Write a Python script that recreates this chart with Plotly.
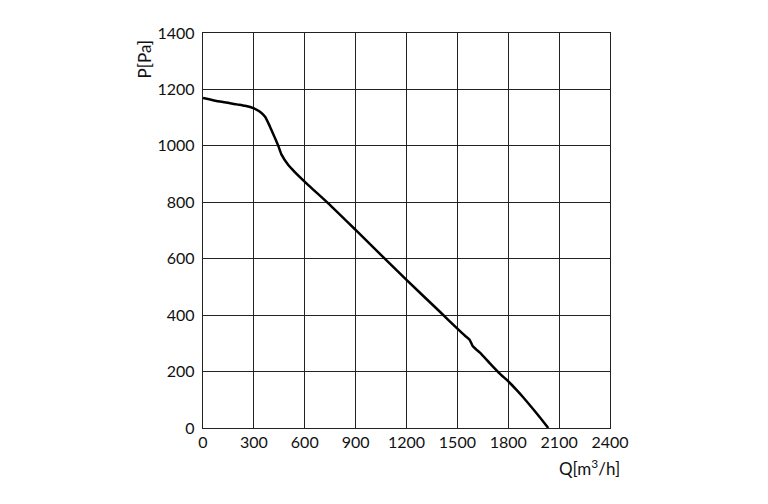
import plotly.graph_objects as go

# fan curve
q = [0, 100, 200, 248, 300, 336, 366, 395, 425, 444, 464, 503, 540, 621, 737, 900,
     1200, 1397, 1500, 1545, 1571, 1590, 1612, 1633, 1700, 1750, 1804, 1850, 1889, 1967, 2036]
p = [1170, 1157, 1147, 1142, 1133, 1121, 1103, 1068, 1027, 1000, 968, 932, 908, 861, 797, 702,
     525, 412, 352, 327, 314, 291, 278, 267, 224, 193, 163, 134, 108, 52, 0]

x_ticks = [0, 300, 600, 900, 1200, 1500, 1800, 2100, 2400]
y_ticks = [0, 200, 400, 600, 800, 1000, 1200, 1400]

font = dict(family="Lato, Open Sans, sans-serif", size=16, color="#111")

fig = go.Figure(go.Scatter(x=q, y=p, mode="lines",
                           line=dict(color="black", width=2.5, shape="spline", smoothing=0.6),
                           showlegend=False, hoverinfo="skip"))

axis = dict(showgrid=True, gridcolor="#222", gridwidth=1.3, showline=True, linecolor="#222",
            linewidth=1.3, mirror=True, zeroline=False, ticks="", tickfont=font)
fig.update_xaxes(range=[0, 2400], tickvals=x_ticks, **axis)
fig.update_yaxes(range=[0, 1400], tickvals=y_ticks, ticklabelstandoff=4, **axis)

fig.add_annotation(text="P[Pa]", xref="paper", yref="paper", x=-0.145, y=0.99,
                   xanchor="center", yanchor="top", textangle=-90, showarrow=False,
                   font=dict(font, size=17))
fig.add_annotation(text="Q[m<sup>3</sup>/h]", xref="paper", yref="paper", x=1.03, y=-0.065,
                   xanchor="right", yanchor="top", showarrow=False, font=dict(font, size=17))

# page body adds an 8px offset, so margins are shifted by that much
fig.update_layout(width=768, height=504, margin=dict(l=195, r=166, t=25, b=84),
                  plot_bgcolor="white", paper_bgcolor="white")
fig.write_html("out.html")
